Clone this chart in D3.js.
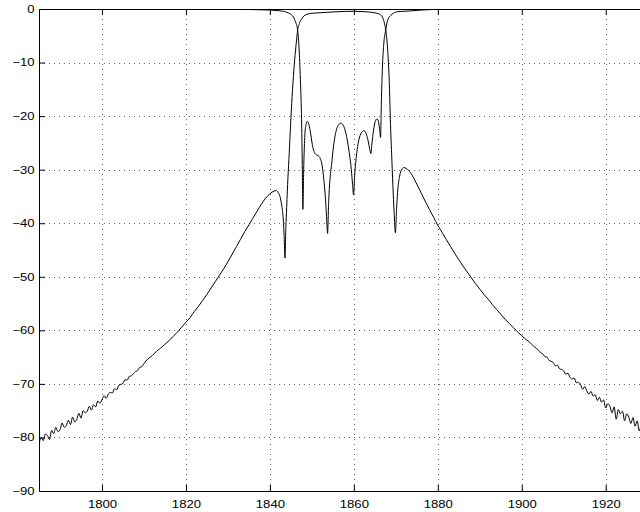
<!DOCTYPE html>
<html>
<head>
<meta charset="utf-8">
<script src="https://cdn.jsdelivr.net/npm/d3@7/dist/d3.min.js"></script>
<style>
  body { margin: 0; background: #fff; }
  .axis text { font-family: "Liberation Sans", Arial, sans-serif; font-size: 10.5px; fill: #000; }
  .axis line { stroke: #000; }
  .grid line { stroke: #666; stroke-dasharray: 1,4; }
</style>
</head>
<body>
<svg id="chart" width="640" height="512"></svg>
<script>
// tick values
var xTicks = [1800, 1820, 1840, 1860, 1880, 1900, 1920];
var yTicks = [-90, -80, -70, -60, -50, -40, -30, -20, -10, 0];

// transmission (dB) vs frequency
var s21 = [
  [1785, -81.3], [1785.5, -80.0], [1786, -80.6], [1786.5, -79.4], [1787, -79.6],
  [1787.5, -80.4], [1788, -78.7], [1788.5, -79.3], [1789, -78.1], [1789.5, -78.9],
  [1790, -78.6], [1790.5, -77.3], [1791, -78.1], [1791.5, -77.8], [1792, -76.8],
  [1792.5, -77.6], [1793, -76.2], [1793.5, -77.1], [1794, -76.6], [1794.5, -75.5],
  [1795, -76.4], [1795.5, -75.0], [1796, -75.4], [1796.5, -75.1], [1797, -74.2],
  [1797.5, -74.9], [1798, -73.9], [1798.5, -74.3], [1799, -73.2], [1799.5, -73.6],
  [1800, -73.0], [1800.5, -72.2], [1801, -72.7], [1801.5, -71.9], [1802, -71.6],
  [1802.5, -71.7], [1803, -70.9], [1803.5, -71.1], [1804, -70.3], [1804.5, -70.1],
  [1805, -69.9], [1805.5, -69.2], [1806, -69.3], [1806.5, -68.6], [1807, -68.5],
  [1807.5, -68.1], [1808, -67.7], [1808.5, -67.5], [1809, -66.9], [1809.5, -66.8],
  [1810, -66.2], [1811, -65.3], [1812, -64.7], [1813, -63.9], [1814, -63.3],
  [1815, -62.6], [1816, -61.9], [1817, -61.1], [1818, -60.3], [1819, -59.4],
  [1820, -58.5], [1821, -57.6], [1822, -56.5], [1823, -55.5], [1824, -54.4],
  [1825, -53.3], [1826, -52.1], [1827, -50.9], [1828, -49.7], [1829, -48.5],
  [1830, -47.2], [1831, -45.8], [1832, -44.4], [1833, -43.0], [1834, -41.6],
  [1835, -40.3], [1836, -39.0], [1837, -37.7], [1838, -36.4], [1839, -35.3],
  [1840, -34.5], [1841, -34.0], [1841.5, -33.9], [1842, -34.3], [1842.4, -35.0],
  [1842.8, -36.6], [1843.2, -39.4], [1843.4, -42.5], [1843.6, -46.5], [1843.8, -41.0],
  [1844.0, -37.0], [1844.3, -31.5], [1844.6, -27.0], [1845.0, -20.5], [1845.4, -15.0],
  [1845.8, -10.5], [1846.2, -7.0], [1846.6, -4.0], [1847.1, -2.6], [1847.6, -1.8],
  [1848.1, -1.3], [1848.8, -1.0], [1850, -0.8], [1852, -0.7], [1855, -0.55],
  [1858, -0.45], [1860, -0.43], [1862, -0.48], [1864, -0.6], [1865.5, -0.8],
  [1866.2, -1.0], [1866.8, -1.5], [1867.2, -2.4], [1867.6, -3.9], [1867.9, -6.0],
  [1868.2, -9.5], [1868.5, -15.0], [1868.7, -20.7], [1869.0, -27.0], [1869.3, -33.0],
  [1869.6, -38.0], [1869.9, -41.8], [1870.2, -37.0], [1870.5, -33.5], [1870.9, -31.2],
  [1871.4, -30.0], [1871.9, -29.6], [1872.5, -29.8], [1873, -30.1], [1874, -31.2],
  [1875, -32.7], [1876, -34.3], [1877, -35.9], [1878, -37.4], [1879, -38.9],
  [1880, -40.4], [1881, -41.7], [1882, -43.0], [1883, -44.3], [1884, -45.6],
  [1885, -46.8], [1886, -48.0], [1887, -49.1], [1888, -50.2], [1889, -51.3],
  [1890, -52.3], [1891, -53.3], [1892, -54.2], [1893, -55.2], [1894, -56.1],
  [1895, -57.0], [1896, -57.9], [1897, -58.7], [1898, -59.5], [1899, -60.3],
  [1900, -61.0], [1901, -61.7], [1902, -62.3], [1903, -63.1], [1904, -63.7],
  [1904.5, -64.2], [1905, -64.4], [1905.5, -64.9], [1906, -65.0], [1906.5, -65.6],
  [1907, -65.8], [1907.5, -66.0], [1908, -66.6], [1908.5, -66.5], [1909, -67.2],
  [1909.5, -67.3], [1910, -67.6], [1910.5, -68.2], [1911, -68.0], [1911.5, -68.8],
  [1912, -69.1], [1912.5, -68.9], [1913, -69.8], [1913.5, -69.7], [1914, -70.1],
  [1914.5, -71.0], [1915, -70.5], [1915.5, -71.3], [1916, -71.9], [1916.5, -71.4],
  [1917, -72.3], [1917.5, -72.0], [1918, -73.1], [1918.5, -72.5], [1919, -73.4],
  [1919.5, -73.0], [1920, -74.5], [1920.5, -73.7], [1921, -74.2], [1921.5, -75.4],
  [1922, -74.3], [1922.5, -76.6], [1923, -74.8], [1923.5, -75.6], [1924, -75.1],
  [1924.5, -76.9], [1925, -75.6], [1925.5, -76.2], [1926, -77.4], [1926.5, -76.3],
  [1927, -77.9], [1927.5, -76.9], [1928, -78.8], [1928.5, -77.6], [1929, -79.3],
  [1929.5, -78.2], [1930, -79.4]
];

// reflection (dB) vs frequency
var s11 = [
  [1785, -0.02], [1800, -0.02], [1815, -0.03], [1825, -0.05], [1830, -0.07],
  [1835, -0.1], [1838, -0.15], [1840, -0.2], [1842, -0.3], [1843, -0.4],
  [1844, -0.6], [1845, -1.0], [1845.6, -1.5], [1846.1, -2.4], [1846.6, -3.9],
  [1847.0, -8.0], [1847.3, -14.0], [1847.55, -20.7], [1847.7, -28.0], [1847.86, -37.4],
  [1848.05, -30.0], [1848.3, -24.0], [1848.6, -21.6], [1848.9, -21.0], [1849.3, -21.6],
  [1849.7, -23.2], [1850.1, -25.3], [1850.5, -26.6], [1851.0, -27.2], [1851.5, -27.4],
  [1852.0, -27.9], [1852.4, -29.0], [1852.8, -31.5], [1853.2, -35.0], [1853.5, -38.8],
  [1853.74, -41.9], [1854.0, -36.0], [1854.3, -32.0], [1854.7, -29.0], [1855.1, -26.0],
  [1855.5, -23.8], [1856.0, -22.2], [1856.5, -21.5], [1856.9, -21.3], [1857.4, -21.6],
  [1857.9, -22.6], [1858.4, -24.3], [1858.9, -26.8], [1859.4, -30.0], [1859.7, -32.8],
  [1859.93, -34.7], [1860.2, -31.0], [1860.6, -27.5], [1861.0, -25.2], [1861.5, -23.6],
  [1862.0, -22.9], [1862.45, -22.7], [1862.9, -23.2], [1863.4, -24.6], [1863.8, -26.2],
  [1864.05, -27.0], [1864.3, -25.2], [1864.7, -22.6], [1865.1, -21.0], [1865.55, -20.5],
  [1865.9, -21.2], [1866.2, -22.8], [1866.36, -24.0], [1866.55, -17.5], [1866.8, -11.0],
  [1867.1, -6.8], [1867.6, -3.9], [1868.1, -2.0], [1868.8, -1.2], [1869.4, -0.8],
  [1870.5, -0.5], [1873.3, -0.37], [1876, -0.2], [1879.7, -0.08], [1890, -0.04],
  [1910, -0.03], [1930, -0.02]
];

//============================================================
// Layout and scales
//------------------------------------------------------------

var plotLeft = 39, plotTop = 9, plotRight = 647.7, plotBottom = 491,
  tickLen = 6,
  labelStretch = 1.25; // reference labels are drawn wide

var svg = d3.select('#chart');

var x = d3.scaleLinear().domain([1785, 1930]).range([plotLeft, plotRight]);
var y = d3.scaleLinear().domain([-90, 0]).range([plotBottom, plotTop]);

svg.append('clipPath').attr('id', 'plot-clip')
  .append('rect')
  .attr('x', plotLeft).attr('y', plotTop)
  .attr('width', plotRight - plotLeft).attr('height', plotBottom - plotTop);

// dotted grid
var grid = svg.append('g').attr('class', 'grid');
grid.selectAll('line.gx')
  .data(xTicks)
  .enter().append('line')
  .attr('class', 'gx')
  .attr('x1', function(d) { return Math.round(x(d)) + 0.5; })
  .attr('x2', function(d) { return Math.round(x(d)) + 0.5; })
  .attr('y1', plotTop)
  .attr('y2', plotBottom);
grid.selectAll('line.gy')
  .data(yTicks.filter(function(d) { return d > -90 && d < 0; }))
  .enter().append('line')
  .attr('class', 'gy')
  .attr('y1', function(d) { return Math.round(y(d)) + 0.5; })
  .attr('y2', function(d) { return Math.round(y(d)) + 0.5; })
  .attr('x1', plotLeft)
  .attr('x2', plotRight);

//============================================================
// Axes (ticks inside, MATLAB style)
//------------------------------------------------------------

var fmt = d3.format('d');

svg.append('g').attr('class', 'axis')
  .attr('transform', 'translate(0,' + plotBottom + ')')
  .call(d3.axisBottom(x).tickValues(xTicks).tickFormat(fmt)
    .tickSizeInner(-tickLen).tickSizeOuter(0).tickPadding(9.5));

svg.append('g').attr('class', 'axis')
  .attr('transform', 'translate(0,' + plotTop + ')')
  .call(d3.axisTop(x).tickValues(xTicks).tickFormat('')
    .tickSizeInner(-tickLen).tickSizeOuter(0));

svg.append('g').attr('class', 'axis')
  .attr('transform', 'translate(' + plotLeft + ',0)')
  .call(d3.axisLeft(y).tickValues(yTicks).tickFormat(fmt)
    .tickSizeInner(-tickLen).tickSizeOuter(0).tickPadding(4.5 / labelStretch));

svg.append('g').attr('class', 'axis')
  .attr('transform', 'translate(' + plotRight + ',0)')
  .call(d3.axisRight(y).tickValues(yTicks).tickFormat('')
    .tickSizeInner(-tickLen).tickSizeOuter(0));

svg.selectAll('.axis .domain').remove();
svg.selectAll('.axis text').attr('transform', 'scale(' + labelStretch + ',1)');

//============================================================
// Curves
//------------------------------------------------------------

var line = d3.line()
  .x(function(d) { return x(d[0]); })
  .y(function(d) { return y(d[1]); })
  .curve(d3.curveMonotoneX);

var curves = svg.append('g').attr('clip-path', 'url(#plot-clip)');
[s21, s11].forEach(function(series) {
  curves.append('path')
    .datum(series)
    .attr('d', line)
    .attr('fill', 'none')
    .attr('stroke', '#000')
    .attr('stroke-width', 1);
});

// frame
svg.append('rect')
  .attr('x', plotLeft + 0.5).attr('y', plotTop + 0.5)
  .attr('width', plotRight - plotLeft).attr('height', plotBottom - plotTop)
  .attr('fill', 'none')
  .attr('stroke', '#000')
  .attr('stroke-width', 1);
</script>
</body>
</html>
